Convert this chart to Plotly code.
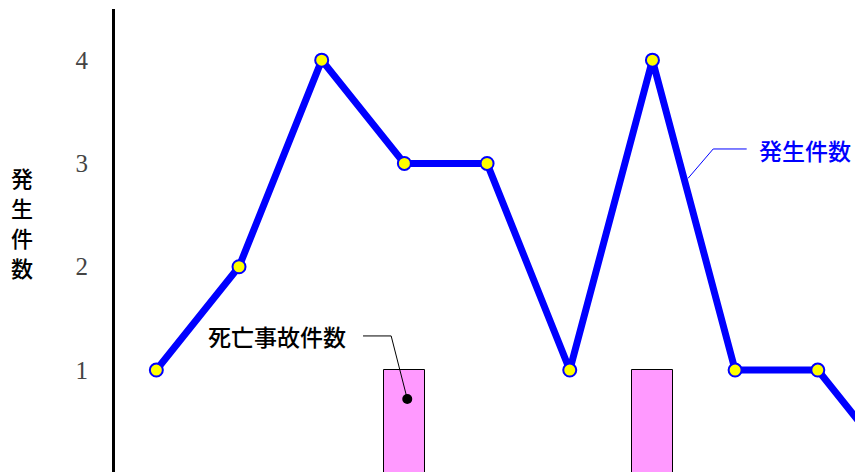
import plotly.graph_objects as go

# data
months = [1, 2, 3, 4, 5, 6, 7, 8, 9, 10]
incidents = [1, 2, 4, 3, 3, 1, 4, 1, 1, 0]
fatal_months = [4, 7]
fatal_counts = [1, 1]
tick_vals = [1, 2, 3, 4]
tick_text = ["1", "2", "3", "4"]
y_title_chars = ["発", "生", "件", "数"]

BLUE = "#0000FF"
PINK = "#FF99FF"
CJK = "Noto Sans CJK JP"

fig = go.Figure()
fig.add_trace(go.Bar(x=fatal_months, y=fatal_counts, width=0.5,
                     marker=dict(color=PINK, line=dict(color="black", width=1)),
                     showlegend=False, hoverinfo="skip"))
fig.add_trace(go.Scatter(x=months, y=incidents, mode="lines+markers",
                         line=dict(color=BLUE, width=7),
                         marker=dict(size=13, color="#FFFF00", line=dict(color=BLUE, width=2)),
                         showlegend=False))

# callout: 死亡事故件数
fig.add_shape(type="path", path="M 3.50 1.33 L 3.84 1.33 L 4.035 0.72",
              xref="x", yref="y", line=dict(color="black", width=1))
fig.add_shape(type="circle", xref="x", yref="y", xsizemode="pixel", ysizemode="pixel",
              xanchor=4.035, yanchor=0.72, x0=-5, x1=5, y0=-5, y1=5,
              fillcolor="black", line=dict(color="black", width=0))
fig.add_annotation(x=2.46, y=1.33, xref="x", yref="y", text="死亡事故件数", showarrow=False,
                   font=dict(family=CJK, size=23, color="black", weight=500))

# callout: 発生件数
fig.add_shape(type="path", path="M 8.14 3.14 L 7.735 3.14 L 7.43 2.855",
              xref="x", yref="y", line=dict(color=BLUE, width=1))
fig.add_annotation(x=8.85, y=3.13, xref="x", yref="y", text="発生件数", showarrow=False,
                   font=dict(family=CJK, size=23, color=BLUE, weight=500))

# vertical y title, one character per line
for i, ch in enumerate(y_title_chars):
    fig.add_annotation(x=-0.126, y=0.637 - i * 0.0648, xref="paper", yref="paper", text=ch,
                       showarrow=False, xanchor="center", yanchor="middle",
                       font=dict(family=CJK, size=22, color="black", weight=500))

fig.update_layout(
    width=855, height=472,
    margin=dict(l=115, r=0, t=9, b=0),
    plot_bgcolor="white", paper_bgcolor="white",
    xaxis=dict(range=[0.5, 9.45], showticklabels=False, showgrid=False, zeroline=False,
               showline=False, ticks=""),
    yaxis=dict(range=[0.013, 4.495], tickvals=tick_vals, ticktext=tick_text,
               showgrid=False, zeroline=False, showline=True, linecolor="black", linewidth=3,
               ticks="", ticklabelstandoff=19,
               tickfont=dict(family="Liberation Serif", size=25, color="#444444")),
    bargap=0,
)

# page body has a default 8px margin; drop it so the figure sits at the window corner
fig.write_html("out.html", config={"displayModeBar": False},
               post_script="document.body.style.margin='0';")
